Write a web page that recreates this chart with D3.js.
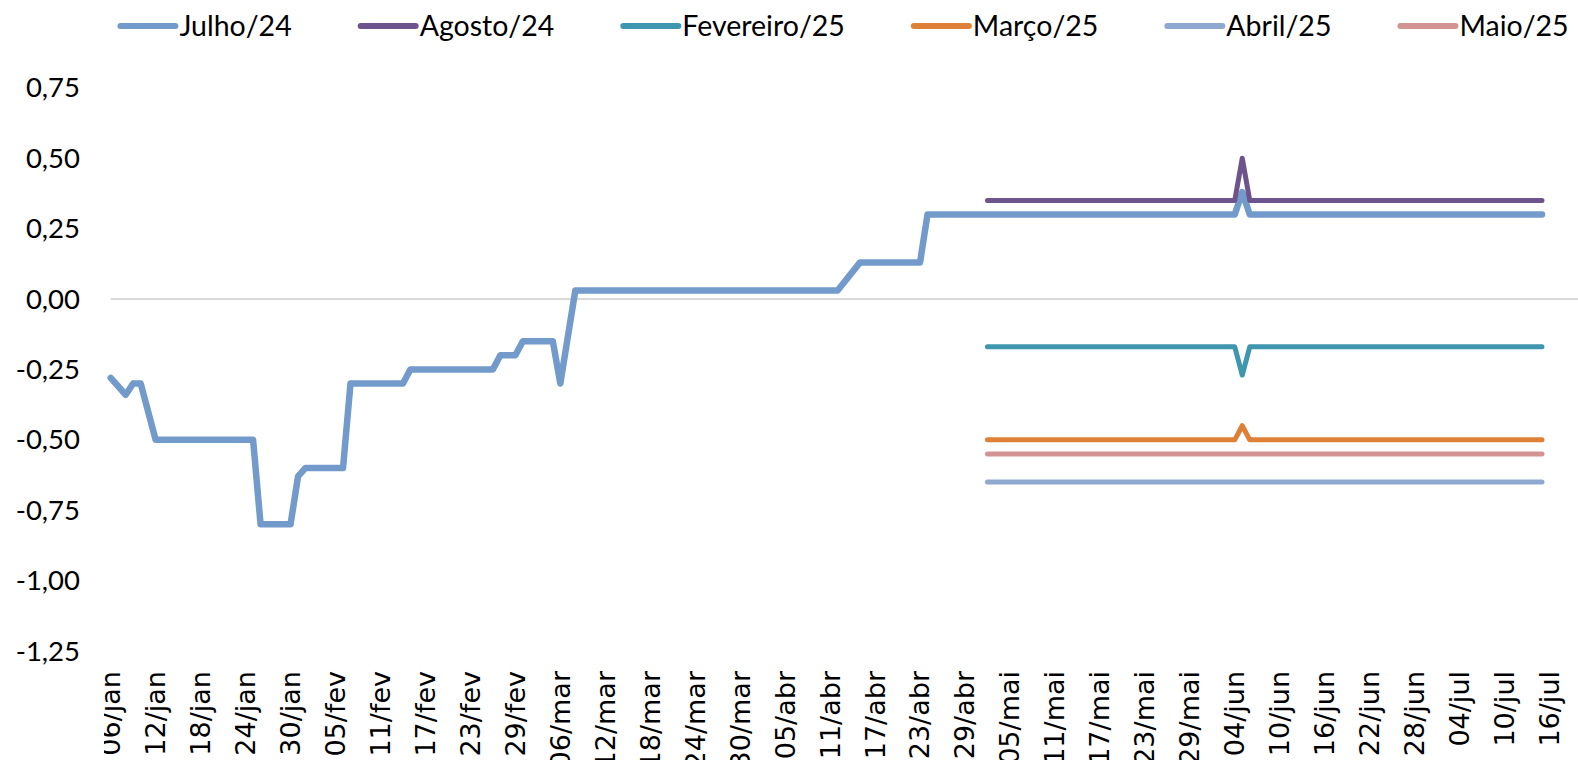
<!DOCTYPE html>
<html><head><meta charset="utf-8">
<script src="https://cdn.jsdelivr.net/npm/d3@7"></script>
<style>html,body{margin:0;padding:0;background:#fff;overflow:hidden}</style>
</head><body><svg id="c" width="1578" height="760"></svg>
<script>
// ---------- DATA ----------
const seriesNames  = ["Julho/24","Agosto/24","Fevereiro/25","Março/25","Abril/25","Maio/25"];
const seriesColors = ["#729ACB","#6E548D","#3F97AF","#DE8035","#8FA8CF","#D39393"];

const julho24Dates  = ["06/jan","08/jan","09/jan","10/jan","12/jan","25/jan","26/jan","30/jan","31/jan","01/fev","06/fev","07/fev","14/fev","15/fev","26/fev","27/fev","29/fev","01/mar","05/mar","06/mar","08/mar","12/abr","15/abr","23/abr","24/abr","04/jun","05/jun","06/jun","15/jul"];
const julho24Values = [-0.28,-0.34,-0.30,-0.30,-0.50,-0.50,-0.80,-0.80,-0.63,-0.60,-0.60,-0.30,-0.30,-0.25,-0.25,-0.20,-0.20,-0.15,-0.15,-0.30,0.03,0.03,0.13,0.13,0.30,0.30,0.38,0.30,0.30];

const recentDates       = ["02/mai","04/jun","05/jun","06/jun","15/jul"];
const agosto24Values    = [0.35,0.35,0.50,0.35,0.35];
const fevereiro25Values = [-0.17,-0.17,-0.27,-0.17,-0.17];
const marco25Values     = [-0.50,-0.50,-0.45,-0.50,-0.50];
const abril25Values     = [-0.65,-0.65,-0.65,-0.65,-0.65];
const maio25Values      = [-0.55,-0.55,-0.55,-0.55,-0.55];

const tickLabels = ["06/jan","12/jan","18/jan","24/jan","30/jan","05/fev","11/fev","17/fev","23/fev","29/fev","06/mar","12/mar","18/mar","24/mar","30/mar","05/abr","11/abr","17/abr","23/abr","29/abr","05/mai","11/mai","17/mai","23/mai","29/mai","04/jun","10/jun","16/jun","22/jun","28/jun","04/jul","10/jul","16/jul"];
const yTicks = [0.75,0.50,0.25,0.00,-0.25,-0.50,-0.75,-1.00,-1.25];

// ---------- HELPERS ----------
const monthIdx = {jan:0,fev:1,mar:2,abr:3,mai:4,jun:5,jul:6,ago:7,set:8,out:9,nov:10,dez:11};
const parse = s => { const [d,m] = s.split("/"); return new Date(Date.UTC(2024, monthIdx[m], +d)); };
const zip = (ds, vs) => ds.map((d,i) => ({date: parse(d), value: vs[i]}));

const series = [
  zip(julho24Dates, julho24Values),
  zip(recentDates, agosto24Values),
  zip(recentDates, fevereiro25Values),
  zip(recentDates, marco25Values),
  zip(recentDates, abril25Values),
  zip(recentDates, maio25Values)
];
const widths = [6.5,5,5,5,5,5];

const svg = d3.select("#c");
const plotLeft = 110.7, plotRight = 1578;

const x = d3.scaleUtc().domain([parse("06/jan"), parse("16/jul")]).range([110.7, 1549.5]);
const y = d3.scaleLinear().domain([-1.25, 0.75]).range([651, 87.8]);

const fmt = d3.formatLocale({decimal:",", thousands:".", grouping:[3], currency:["R$",""], minus:"-"}).format(".2f");

// zero line
svg.append("line")
  .attr("x1", plotLeft).attr("x2", plotRight)
  .attr("y1", y(0)).attr("y2", y(0))
  .attr("stroke", "#D9D9D9").attr("stroke-width", 2);

// y labels
svg.append("g").selectAll("text").data(yTicks).join("text")
  .attr("x", 80).attr("y", d => y(d)).attr("dy", "0.35em")
  .attr("text-anchor", "end")
  .style("font-family", "Lato, 'Open Sans', sans-serif").style("font-size", "27.5px")
  .attr("fill", "#000")
  .text(d => fmt(d));

// x labels
svg.append("defs").append("clipPath").attr("id","xclip")
  .append("rect").attr("x",104).attr("y",600).attr("width",1474).attr("height",160);
svg.append("g").attr("clip-path","url(#xclip)").selectAll("text").data(tickLabels).join("text")
  .attr("transform", d => `translate(${x(parse(d))},671) rotate(-90)`)
  .attr("dy", "0.35em").attr("text-anchor", "end")
  .style("font-family", "'DejaVu Sans', sans-serif").style("font-size", "27px")
  .attr("fill", "#000")
  .text(d => d);

// lines
const line = d3.line().x(d => x(d.date)).y(d => y(d.value));
svg.append("g").selectAll("path").data(series).join("path")
  .attr("d", line)
  .attr("fill", "none")
  .attr("stroke", (d,i) => seriesColors[i])
  .attr("stroke-width", (d,i) => widths[i])
  .attr("stroke-linejoin", "round").attr("stroke-linecap", "round");

// legend
const lg = svg.append("g");
const items = lg.selectAll("g").data(seriesNames).join("g");
items.append("line").attr("x1",0).attr("x2",55).attr("y1",0).attr("y2",0)
  .attr("stroke",(d,i)=>seriesColors[i]).attr("stroke-width",6).attr("stroke-linecap","round");
items.append("text").attr("x",59).attr("y",0).attr("dy","0.35em")
  .style("font-family", "Lato, 'Open Sans', sans-serif").style("font-size", "28.5px")
  .attr("fill","#000").text(d=>d);
let pos = [], cur = 0;
items.each(function(d,i){ const w = 59 + this.querySelector("text").getComputedTextLength(); pos.push(cur); cur += w + 69; });
const total = cur - 69;
const start = 844.5 - total/2;
items.attr("transform",(d,i)=>`translate(${start+pos[i]},26)`);
</script></body></html>
